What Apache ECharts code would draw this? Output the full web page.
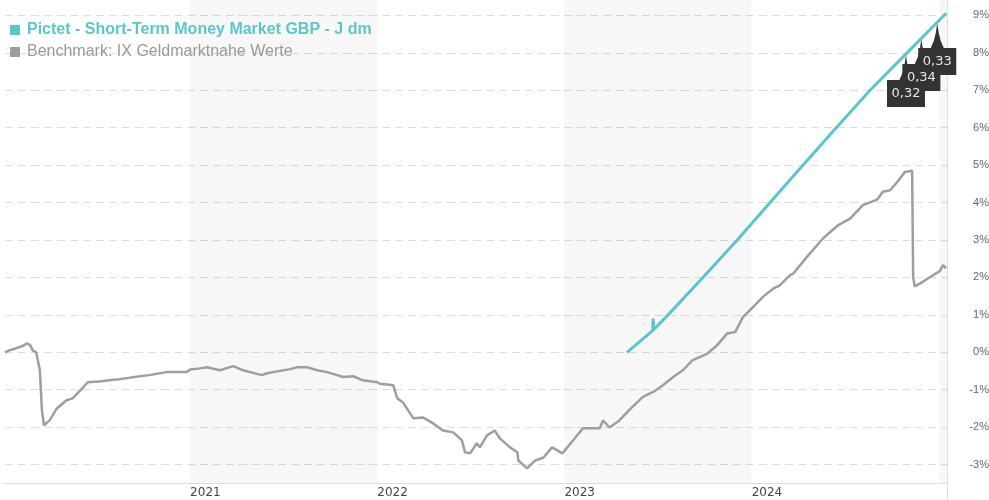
<!DOCTYPE html>
<html>
<head>
<meta charset="utf-8">
<script src="https://cdn.jsdelivr.net/npm/echarts@6/dist/echarts.min.js"></script>
<style>
  html, body { margin: 0; padding: 0; background: #fff; }
  #chart { width: 989px; height: 500px; }
</style>
</head>
<body>
<div id="chart"></div>
<script>
// Wertentwicklung in %
const fundName = 'Pictet - Short-Term Money Market GBP - J dm';
const benchName = 'Benchmark: IX Geldmarktnahe Werte';

const fundDates = ['2023-05-03', '2023-06-22', '2023-06-23', '2023-06-24', '2023-07-22', '2023-09-28',
  '2023-12-04', '2024-02-06', '2024-04-10', '2024-06-14', '2024-08-19', '2024-10-30', '2025-01-10',
  '2025-01-14'];
const fundValues = [0.00, 0.58, 0.90, 0.60, 1.00, 2.00,
  3.00, 4.00, 5.00, 6.00, 7.00, 8.00, 9.00,
  9.06];

const benchDates = ['2020-01-06', '2020-01-14', '2020-01-22', '2020-02-01', '2020-02-08', '2020-02-18',
  '2020-02-24', '2020-02-29', '2020-03-07', '2020-03-10', '2020-03-14', '2020-03-16', '2020-03-18',
  '2020-03-22', '2020-03-24', '2020-04-02', '2020-04-16', '2020-05-05', '2020-05-17', '2020-06-05',
  '2020-06-15', '2020-07-08', '2020-07-27', '2020-08-16', '2020-09-10', '2020-10-13', '2020-11-16',
  '2020-12-25', '2021-01-01', '2021-01-20', '2021-02-03', '2021-02-28', '2021-03-26', '2021-04-14',
  '2021-05-21', '2021-05-31', '2021-06-20', '2021-07-15', '2021-07-29', '2021-08-17', '2021-09-06',
  '2021-09-25', '2021-10-15', '2021-10-26', '2021-11-15', '2021-12-04', '2022-01-01', '2022-01-06',
  '2022-01-20', '2022-02-01', '2022-02-09', '2022-02-20', '2022-03-12', '2022-03-31', '2022-04-20',
  '2022-05-09', '2022-05-29', '2022-06-15', '2022-06-21', '2022-07-01', '2022-07-14', '2022-07-20',
  '2022-08-03', '2022-08-18', '2022-08-28', '2022-09-17', '2022-10-01', '2022-10-03', '2022-10-20',
  '2022-11-05', '2022-11-21', '2022-12-08', '2022-12-28', '2023-01-18', '2023-02-06', '2023-03-11',
  '2023-03-17', '2023-03-30', '2023-04-18', '2023-05-08', '2023-06-03', '2023-06-23', '2023-07-12',
  '2023-08-01', '2023-08-20', '2023-09-08', '2023-10-06', '2023-10-26', '2023-11-14', '2023-11-30',
  '2023-12-15', '2024-01-04', '2024-01-23', '2024-02-12', '2024-02-25', '2024-03-16', '2024-03-22',
  '2024-04-18', '2024-05-19', '2024-06-18', '2024-07-11', '2024-08-05', '2024-09-02', '2024-09-13',
  '2024-09-27', '2024-10-11', '2024-10-26', '2024-11-09', '2024-11-11', '2024-11-14', '2024-11-25',
  '2024-12-14', '2025-01-02', '2025-01-08', '2025-01-14'];
const benchValues = [0.00, 0.05, 0.08, 0.13, 0.16, 0.24,
  0.19, 0.05, 0.00, -0.21, -0.48, -1.02, -1.55,
  -1.95, -2.00, -1.82, -1.50, -1.28, -1.23, -0.96,
  -0.80, -0.78, -0.75, -0.72, -0.67, -0.61, -0.53,
  -0.53, -0.46, -0.43, -0.40, -0.48, -0.37, -0.48,
  -0.61, -0.56, -0.51, -0.45, -0.40, -0.40, -0.48,
  -0.53, -0.61, -0.66, -0.64, -0.75, -0.80, -0.84,
  -0.86, -0.88, -1.23, -1.34, -1.76, -1.74, -1.90,
  -2.09, -2.14, -2.35, -2.67, -2.70, -2.43, -2.54,
  -2.22, -2.09, -2.30, -2.54, -2.67, -2.89, -3.10,
  -2.89, -2.81, -2.54, -2.70, -2.35, -2.03, -2.03,
  -1.82, -2.01, -1.82, -1.53, -1.19, -1.06, -0.88,
  -0.66, -0.48, -0.21, -0.04, 0.19, 0.50, 0.54,
  0.94, 1.21, 1.48, 1.70, 1.79, 2.06, 2.10,
  2.55, 3.04, 3.40, 3.57, 3.93, 4.08, 4.29,
  4.33, 4.55, 4.82, 4.85, 2.01, 1.76, 1.84,
  2.01, 2.17, 2.33, 2.24];

// Ausschüttungen
const divDates = ['2024-10-28', '2024-11-27', '2024-12-28'];
const divValues = [7.94, 8.37, 8.80];
const divLabels = ['0,32', '0,34', '0,33'];

// hinterlegte Jahre
const shadeStarts = ['2021-01-01', '2023-01-01', '2025-01-01'];
const shadeEnds = ['2022-01-01', '2024-01-01', '2025-01-16'];

const xMin = '2020-01-06';
const xMax = '2025-01-16';

const fundColor = '#5bc5cd';
const benchColor = '#9e9e9e';

const chart = echarts.init(document.getElementById('chart'));

function renderDiv(params, api) {
  const p = api.coord([api.value(0), api.value(1)]);
  const x = p[0], y = p[1];
  return {
    type: 'group',
    children: [
      {
        type: 'polygon', z2: 1,
        shape: { points: [[x, y], [x + 1.5, y + 10], [x + 3.5, y + 18], [x + 7, y + 26],
          [x - 7, y + 26], [x - 3.5, y + 18], [x - 1.5, y + 10]] },
        style: { fill: '#333' }
      },
      {
        type: 'rect', z2: 1,
        shape: { x: x - 19, y: y + 25, width: 38, height: 27 },
        style: { fill: '#333' }
      },
      {
        // Beschriftung immer über allen Kästchen
        type: 'text', z2: 10,
        style: {
          text: divLabels[params.dataIndex], x: x, y: y + 39,
          align: 'center', verticalAlign: 'middle',
          fill: '#e6e6e6', fontSize: 13, fontFamily: 'DejaVu Sans'
        }
      }
    ]
  };
}

const lastLabel = echarts.time.parse(xMax) - 30 * 24 * 3600 * 1000;

const option = {
  animation: false,
  grid: { left: 5, right: 42, top: -22, bottom: -2, outerBoundsMode: 'none', containLabel: false },
  legend: {
    orient: 'vertical', left: 10, top: 22, padding: 0,
    itemWidth: 10, itemHeight: 10, itemGap: 6, icon: 'rect',
    textStyle: { fontSize: 16, fontFamily: 'Liberation Sans', lineHeight: 16, padding: [0, 0, 0, 2] },
    data: [
      { name: fundName, textStyle: { color: fundColor, fontWeight: 'bold' } },
      { name: benchName, textStyle: { color: '#999' } }
    ]
  },
  xAxis: {
    type: 'time',
    min: xMin, max: xMax,
    offset: -19,
    minInterval: 365 * 24 * 3600 * 1000,
    axisLine: { onZero: false, lineStyle: { color: '#ddd' } },
    axisTick: { show: false },
    splitLine: { show: false },
    axisLabel: {
      align: 'left', margin: 4, color: '#444', fontSize: 12, fontFamily: 'DejaVu Sans',
      formatter: function (v) {
        const d = new Date(v);
        if (v > lastLabel) return '';
        return (d.getMonth() === 0 && d.getDate() === 1) ? String(d.getFullYear()) : '';
      }
    }
  },
  yAxis: {
    type: 'value', position: 'right',
    min: -4, max: 10, interval: 1,
    axisLine: { show: true, lineStyle: { color: '#ddd' } },
    axisTick: { show: false },
    splitLine: { lineStyle: { color: '#ddd', type: [8, 5] } },
    axisLabel: {
      align: 'right', margin: 42, color: '#666', fontSize: 11, fontFamily: 'Liberation Sans',
      formatter: function (v) { return (v <= -4 || v >= 10) ? '' : Math.round(v) + '%'; }
    }
  },
  series: [
    {
      name: benchName, type: 'line', showSymbol: false, z: 2,
      color: benchColor, lineStyle: { width: 2.5, color: benchColor },
      data: benchDates.map((d, i) => [d, benchValues[i]]),
      markArea: {
        silent: true,
        itemStyle: { color: 'rgba(0,0,0,0.03)' },
        data: shadeStarts.map((s, i) => [{ xAxis: s, yAxis: -3.5 }, { xAxis: shadeEnds[i], yAxis: 10 }])
      }
    },
    {
      name: fundName, type: 'line', showSymbol: false, z: 3,
      color: fundColor, lineStyle: { width: 3, color: fundColor },
      data: fundDates.map((d, i) => [d, fundValues[i]])
    },
    {
      name: 'Ausschüttung', type: 'custom', z: 2, silent: true,
      renderItem: renderDiv,
      data: divDates.map((d, i) => [d, divValues[i]])
    }
  ]
};

chart.setOption(option);
</script>
</body>
</html>
